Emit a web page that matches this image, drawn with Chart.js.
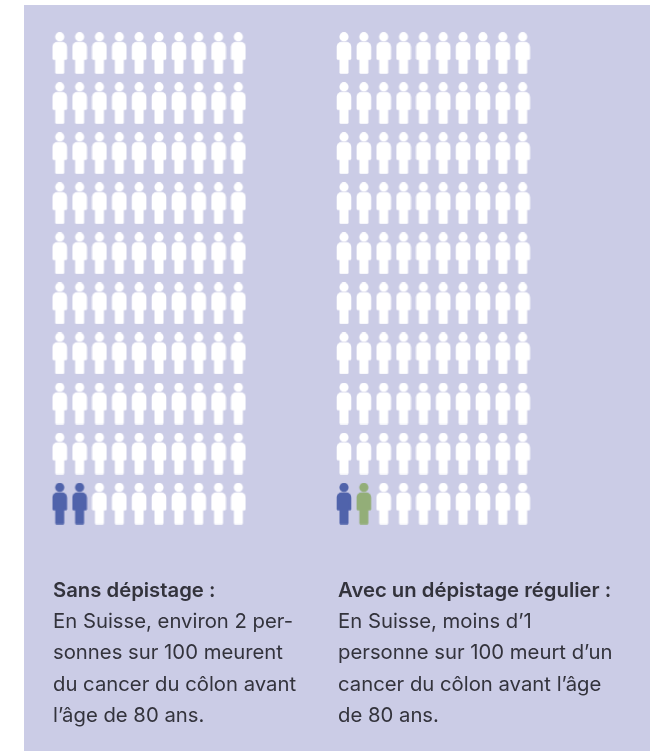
<!DOCTYPE html>
<html lang="fr">
<head>
<meta charset="utf-8">
<title>Dépistage du cancer du côlon</title>
<script src="https://cdn.jsdelivr.net/npm/chart.js@4"></script>
<style>
  html, body { margin: 0; padding: 0; background: #fff; }
  #wrap { position: relative; width: 661px; height: 751px; overflow: hidden; }
  #panel { position: absolute; left: 24px; top: 5px; width: 626px; height: 746px; background: #cbcce6; }
  #chart { position: absolute; left: 0; top: 0; }
  .note { position: absolute; top: 574px; font: 400 20.3px/31.2px Inter, sans-serif; color: #33333c; white-space: nowrap; }
  .note b { font-weight: 600; }
</style>
</head>
<body>
<div id="wrap">
  <div id="panel"></div>
  <canvas id="chart" width="661" height="751"></canvas>
  <div class="note" id="noteLeft" style="left:53px"></div>
  <div class="note" id="noteRight" style="left:338px"></div>
</div>
<script>
// people out of 100 in each group
const blueCounts = [2, 1];
const greenCounts = [0, 1];
const whiteCounts = [98, 98];
const peoplePerRow = 10;

const titles = ["Sans dépistage :", "Avec un dépistage régulier :"];
const linesLeft = ["En Suisse, environ 2 per-", "sonnes sur 100 meurent", "du cancer du côlon avant", "l’âge de 80 ans."];
const linesRight = ["En Suisse, moins d’1", "personne sur 100 meurt d’un", "cancer du côlon avant l’âge", "de 80 ans."];

// second block starts this many columns to the right of the first
const groupOffsets = [0, 14.32];

function fillNote(id, title, lines) {
  document.getElementById(id).innerHTML = "<b>" + title + "</b><br>" + lines.join("<br>");
}
fillNote("noteLeft", titles[0], linesLeft);
fillNote("noteRight", titles[1], linesRight);

// little person used as point style
function personIcon(color) {
  const c = document.createElement("canvas");
  c.width = 16;
  c.height = 42;
  const g = c.getContext("2d");
  g.fillStyle = color;
  g.beginPath();
  g.arc(8, 4.7, 4.6, 0, Math.PI * 2);
  g.fill();
  g.beginPath();
  g.roundRect(0.7, 9.8, 14.6, 18, [5, 5, 1.5, 1.5]);
  g.fill();
  g.beginPath();
  g.roundRect(3.5, 20, 9, 21.7, [0, 0, 1.5, 1.5]);
  g.fill();
  return c;
}

// fill the grid from the bottom left, coloured people first
function peoplePoints(group, skip, count) {
  const pts = [];
  for (let n = skip; n < skip + count; n++) {
    pts.push({
      x: groupOffsets[group] + n % peoplePerRow,
      y: Math.floor(n / peoplePerRow)
    });
  }
  return pts;
}

const blueData = [], greenData = [], whiteData = [];
for (let i = 0; i < titles.length; i++) {
  blueData.push(...peoplePoints(i, 0, blueCounts[i]));
  greenData.push(...peoplePoints(i, blueCounts[i], greenCounts[i]));
  whiteData.push(...peoplePoints(i, blueCounts[i] + greenCounts[i], whiteCounts[i]));
}

function peopleDataset(label, data, color) {
  return { label: label, data: data, pointStyle: personIcon(color), pointRadius: 8, pointHoverRadius: 8 };
}

new Chart(document.getElementById("chart"), {
  type: "scatter",
  data: {
    datasets: [
      peopleDataset("Décès", blueData, "#5063ab"),
      peopleDataset("Décès évités", greenData, "#93ae78"),
      peopleDataset("Autres personnes", whiteData, "#ffffff")
    ]
  },
  options: {
    responsive: false,
    animation: false,
    layout: { padding: 0, autoPadding: false },
    plugins: { legend: { display: false }, tooltip: { enabled: false } },
    scales: {
      x: { type: "linear", display: false, min: -3.008, max: 30.29 },
      y: { type: "linear", display: false, min: -4.94, max: 10.06 }
    }
  }
});
</script>
</body>
</html>
